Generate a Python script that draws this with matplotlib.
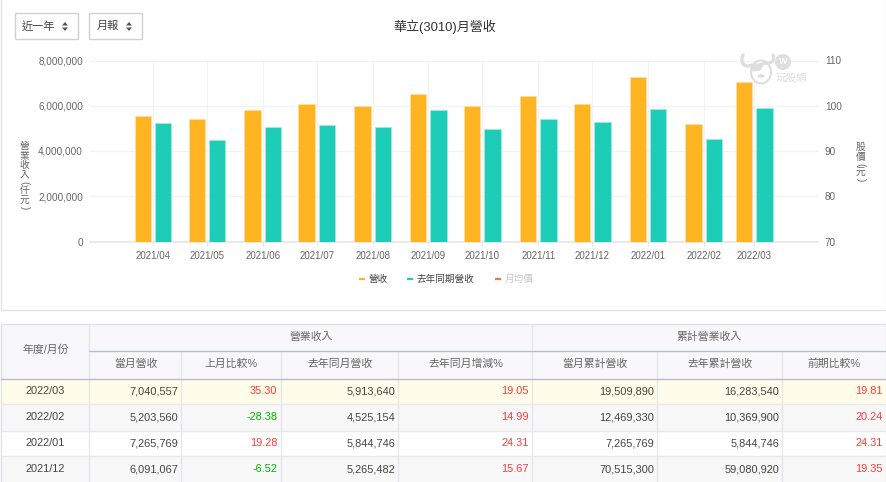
from __future__ import annotations

from datetime import date

import matplotlib
matplotlib.use("Agg")
import matplotlib.dates as mdates
import matplotlib.pyplot as plt
from matplotlib.patches import Circle, Ellipse, FancyBboxPatch, PathPatch, Polygon, Rectangle
from matplotlib.path import Path
from matplotlib.ticker import FuncFormatter

plt.rcParams["font.family"] = ["Liberation Sans", "Noto Sans CJK TC", "DejaVu Sans"]

WIDTH, HEIGHT = 887, 482

months = [date(2021, m, 1) for m in range(4, 13)] + [date(2022, m, 1) for m in range(1, 4)]
month_labels = [d.strftime("%Y/%m") for d in months]
revenue = [5550000, 5410000, 5810000, 6080000, 6010000, 6500000,
           5970000, 6450000, 6091067, 7265769, 5203560, 7040557]
revenue_last_year = [5240000, 4490000, 5040000, 5170000, 5060000, 5810000,
                     4990000, 5410000, 5265482, 5844746, 4525154, 5913640]

left_ticks = [0, 2000000, 4000000, 6000000, 8000000]
right_ticks = [70, 80, 90, 100, 110]
legend_names = ["營收", "去年同期營收", "月均價"]

group_headers = ["營業收入", "累計營業收入"]
column_headers = ["當月營收", "上月比較%", "去年同月營收", "去年同月增減%",
                  "當月累計營收", "去年累計營收", "前期比較%"]
table_rows = [
    ["2022/03", "7,040,557", "35.30", "5,913,640", "19.05", "19,509,890", "16,283,540", "19.81"],
    ["2022/02", "5,203,560", "-28.38", "4,525,154", "14.99", "12,469,330", "10,369,900", "20.24"],
    ["2022/01", "7,265,769", "19.28", "5,844,746", "24.31", "7,265,769", "5,844,746", "24.31"],
    ["2021/12", "6,091,067", "-6.52", "5,265,482", "15.67", "70,515,300", "59,080,920", "19.35"],
]

ORANGE = "#FFB522"
TEAL = "#1DCDB8"
RED_LEGEND = "#FF7043"
TEXT = "#666666"
TEXT_DARK = "#444444"
GRID = "#F3F3F5"
BORDER = "#E2E3E8"
HEADER_LINE = "#B9BCCB"

col_edges = [1.5, 89.5, 181.5, 281, 398.5, 532.5, 657.5, 782.5, 886.5]
row_edges = [378.5, 404, 430.5, 456, 482]


def stacked_text(page, x, y, text):
    """Vertical axis title: upright characters, brackets turned sideways."""
    step, bracket = 9.5, 6.0
    prev = None
    for ch in text:
        size = bracket if ch in "()" else step
        if prev is not None:
            y += (prev + size) / 2
        rotation = -90 if ch in "()" else 0
        page.text(x, y, ch, fontsize=7, color=TEXT, rotation=rotation, ha="center", va="center")
        prev = size


def draw_page(page):
    """Chart panel frame, the two select boxes and the title."""
    page.add_patch(Rectangle((1.5, -2), 884.5, 311.5, fc="white", ec=BORDER, lw=1))
    for x0, w, label, tx in [(15.5, 63, "近一年", 22), (89.5, 53, "月報", 97)]:
        page.add_patch(FancyBboxPatch((x0, 13.5), w, 26, boxstyle="round,pad=0,rounding_size=1",
                                      fc="white", ec="#CDD0D6", lw=1))
        page.text(tx, 26, label, fontsize=8, color="#444444", ha="left", va="center")
        ax_x = x0 + w - 13.5
        page.add_patch(Polygon([(ax_x - 3, 25.5), (ax_x + 3, 25.5), (ax_x, 22)], fc="#4A5568", ec="none"))
        page.add_patch(Polygon([(ax_x - 3, 27.5), (ax_x + 3, 27.5), (ax_x, 31)], fc="#4A5568", ec="none"))
    page.text(444.5, 27, "華立(3010)月營收", fontsize=9.4, color="#333333", ha="center", va="center")
    stacked_text(page, 24.5, 146, "營業收入(仟元)")
    stacked_text(page, 860.5, 147, "股價(元)")


def draw_logo(page):
    """Small grey site mark in the top right of the plot."""
    grey = "#DEDEDE"
    # face outline first, horns drawn as thick curved strokes on top
    page.add_patch(Ellipse((761, 72), 20, 23, fc="white", ec=grey, lw=1.5, zorder=6))
    left_horn = Path([(743, 55), (739, 64), (746, 68), (752, 65)],
                     [Path.MOVETO, Path.CURVE4, Path.CURVE4, Path.CURVE4])
    right_horn = Path([(773, 55), (775, 61), (771, 64), (764, 63)],
                      [Path.MOVETO, Path.CURVE4, Path.CURVE4, Path.CURVE4])
    for horn in (left_horn, right_horn):
        page.add_patch(PathPatch(horn, fc="none", ec=grey, lw=2.4, capstyle="round", zorder=7))
    # patch over one eye, nose
    page.add_patch(Polygon([(752, 65), (764, 63), (760, 70), (753, 71)], fc=grey, ec=grey, lw=0.8, zorder=7))
    page.add_patch(Ellipse((761, 76), 7, 3.5, fc=grey, ec="none", zorder=7))
    page.add_patch(Circle((783, 62), 8, fc=grey, ec="none", zorder=6))
    page.text(783, 62, "W", fontsize=6.5, color="white", fontweight="bold", ha="center", va="center", zorder=8)
    page.text(791, 77.5, "玩股網", fontsize=7.6, color=grey, ha="center", va="center", zorder=8)


def draw_legend(page):
    y = 279
    items = [(359, 368.5, legend_names[0], ORANGE, TEXT_DARK),
             (407, 417, legend_names[1], TEAL, TEXT_DARK),
             (495, 505, legend_names[2], RED_LEGEND, "#C8C8C8")]
    for x0, tx, label, color, text_color in items:
        page.plot([x0, x0 + 6], [y - 0.5, y - 0.5], color=color, lw=1.6, solid_capstyle="butt")
        page.text(tx, y, label, fontsize=6.9, color=text_color, ha="left", va="center")


def draw_chart(fig):
    plot_left, plot_right, plot_top, plot_bottom = 90, 818, 60.5, 241.5
    ax = fig.add_axes([plot_left / WIDTH, 1 - plot_bottom / HEIGHT,
                       (plot_right - plot_left) / WIDTH, (plot_bottom - plot_top) / HEIGHT], zorder=3)
    ax.patch.set_alpha(0)
    nums = mdates.date2num(months)
    px_per_day = 1.8
    ax.set_xlim(nums[0] - 63 / px_per_day, nums[0] + (plot_right - 153) / px_per_day)
    ax.set_ylim(0, 8000000)

    bar_w = 16.5 / px_per_day
    offset = 10.2 / px_per_day
    ax.bar(nums - offset, revenue, width=bar_w, color=ORANGE, edgecolor="#FFE0A8", linewidth=0.5, zorder=3)
    ax.bar(nums + offset, revenue_last_year, width=bar_w, color=TEAL, edgecolor="#A5EBE2", linewidth=0.5, zorder=3)

    ax.set_xticks(nums)
    ax.set_xticklabels(month_labels)
    ax.set_yticks(left_ticks)
    ax.yaxis.set_major_formatter(FuncFormatter(lambda v, _: f"{int(v):,}"))
    ax.grid(True, color=GRID, lw=0.9, zorder=0)
    ax.set_axisbelow(True)
    ax.tick_params(axis="y", length=0, pad=5, labelsize=7.2, labelcolor=TEXT)
    ax.tick_params(axis="x", length=3, width=0.8, color="#E6E6E6", pad=3.5, labelsize=7, labelcolor=TEXT)
    for name in ["top", "left", "right"]:
        ax.spines[name].set_visible(False)
    ax.spines["bottom"].set_color("#E6E6E6")
    ax.spines["bottom"].set_linewidth(1.2)

    price_ax = ax.twinx()
    price_ax.set_ylim(70, 110)
    price_ax.set_yticks(right_ticks)
    price_ax.tick_params(axis="y", length=0, pad=5, labelsize=7.2, labelcolor=TEXT)
    for spine in price_ax.spines.values():
        spine.set_visible(False)


def draw_table(page):
    top, split, head_bottom = 323.5, 350.5, 378.5
    left, right = col_edges[0], col_edges[-1]

    # header band and banded body rows
    page.add_patch(Rectangle((left, top), right - left, head_bottom - top, fc="#F8F8FB", ec="none"))
    fills = ["#FFFDE9", "#F8F8F9", "white", "#F8F8F9"]
    for i, fill in enumerate(fills):
        page.add_patch(Rectangle((left, row_edges[i]), right - left, row_edges[i + 1] - row_edges[i], fc=fill, ec="none"))

    page.plot([left, right], [top, top], color=BORDER, lw=1)
    page.plot([left, left], [top, HEIGHT], color=BORDER, lw=1)
    page.plot([right, right], [top, HEIGHT], color=BORDER, lw=1)
    for x in col_edges[1:-1]:
        y0 = split if x not in (col_edges[1], col_edges[5]) else top
        page.plot([x, x], [y0, HEIGHT], color="#E6E7EC", lw=1)
    page.plot([col_edges[1], right], [split, split], color=HEADER_LINE, lw=1)
    page.plot([left, right], [head_bottom, head_bottom], color=HEADER_LINE, lw=1)
    for y in row_edges[1:-1]:
        page.plot([left, right], [y, y], color="#E8E9ED", lw=1)

    header_color = "#666666"
    page.text((col_edges[0] + col_edges[1]) / 2, 350, "年度/月份", fontsize=7.8, color=header_color, ha="center", va="center")
    page.text((col_edges[1] + col_edges[5]) / 2, 337, group_headers[0], fontsize=7.8, color=header_color, ha="center", va="center")
    page.text((col_edges[5] + col_edges[8]) / 2, 337, group_headers[1], fontsize=7.8, color=header_color, ha="center", va="center")
    for i, label in enumerate(column_headers):
        page.text((col_edges[i + 1] + col_edges[i + 2]) / 2, 364, label, fontsize=7.8, color=header_color, ha="center", va="center")

    pct_cols = {2, 4, 7}
    for r, row in enumerate(table_rows):
        y = (row_edges[r] + row_edges[r + 1]) / 2
        page.text((col_edges[0] + col_edges[1]) / 2, y, row[0], fontsize=7.9, color=TEXT_DARK, ha="center", va="center")
        for c in range(1, 8):
            color = TEXT_DARK
            if c in pct_cols:
                color = "#00B400" if row[c].startswith("-") else "#FF3B3B"
            page.text(col_edges[c + 1] - 3.5, y, row[c], fontsize=7.9, color=color, ha="right", va="center")


def main() -> None:
    fig = plt.figure(figsize=(WIDTH / 100, HEIGHT / 100), dpi=100, facecolor="white")
    page = fig.add_axes([0, 0, 1, 1], zorder=1)
    page.set_xlim(0, WIDTH)
    page.set_ylim(HEIGHT, 0)
    page.axis("off")

    draw_page(page)
    draw_table(page)
    draw_legend(page)
    draw_chart(fig)

    overlay = fig.add_axes([0, 0, 1, 1], zorder=5)
    overlay.set_xlim(0, WIDTH)
    overlay.set_ylim(HEIGHT, 0)
    overlay.axis("off")
    draw_logo(overlay)

    fig.savefig("out.png", dpi=100)
    plt.close(fig)


if __name__ == "__main__":
    main()
